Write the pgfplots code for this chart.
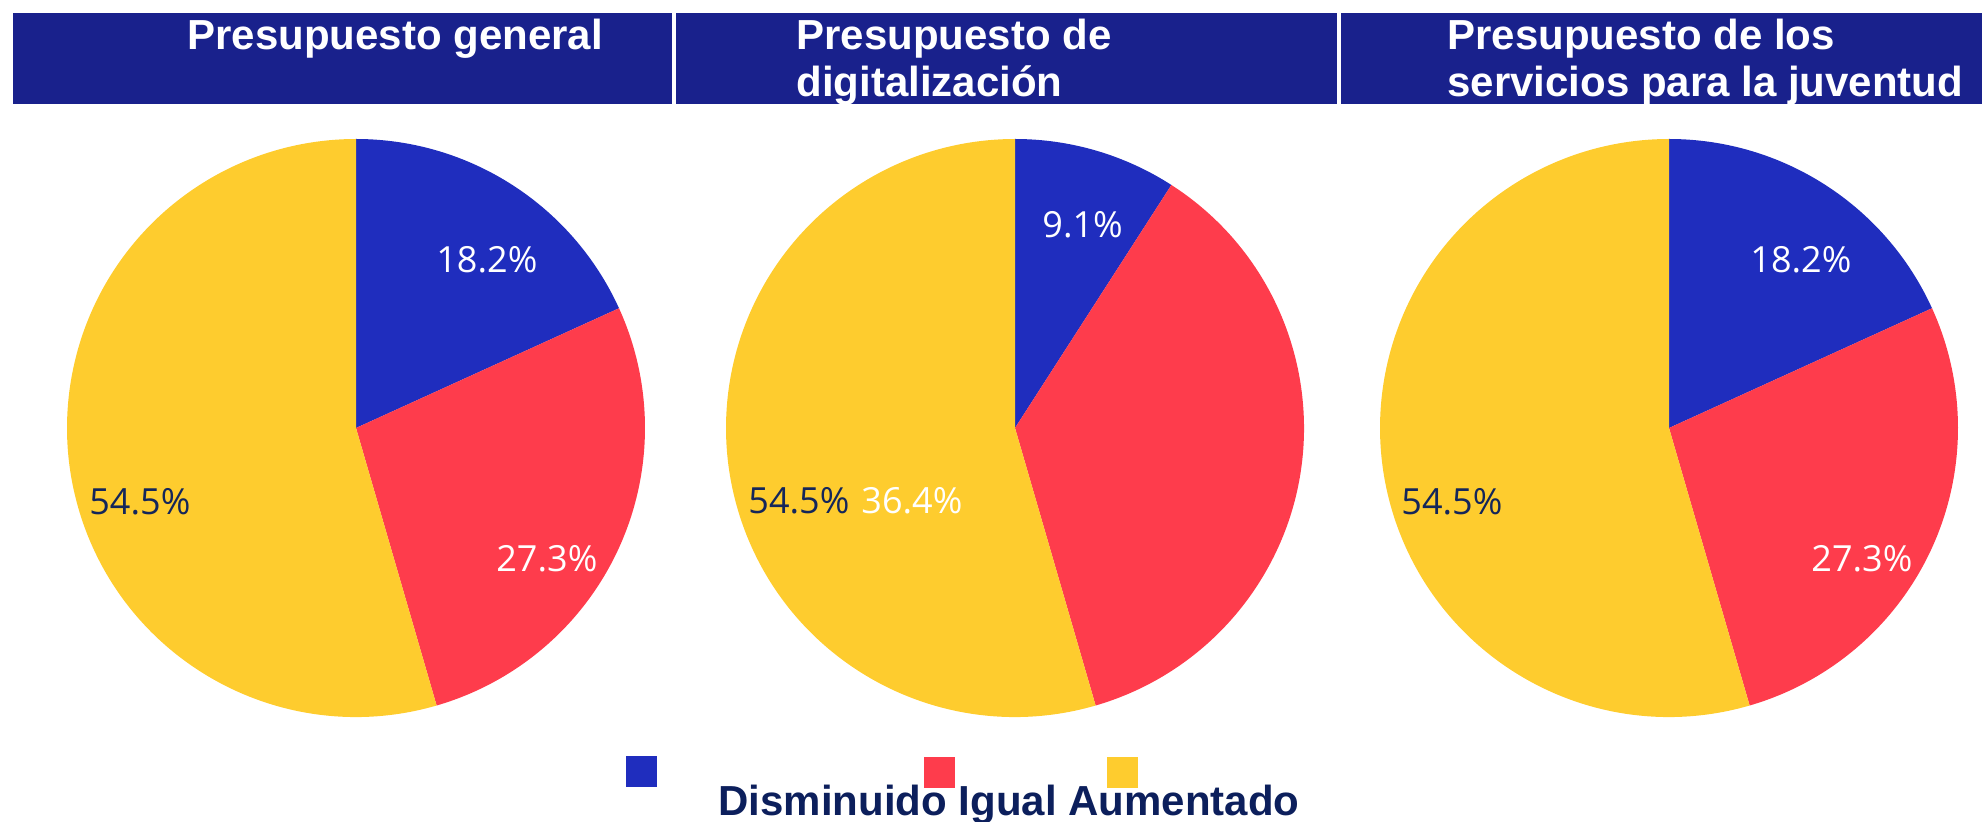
\documentclass[border=0pt]{standalone}
\usepackage{pgfplots}
\pgfplotsset{compat=1.18}
\usepackage{fontspec}
\setmainfont{Liberation Sans}
\newfontfamily\lab{Open Sans}
\definecolor{cblue}{RGB}{31,45,190}
\definecolor{cred}{RGB}{254,60,76}
\definecolor{cyel}{RGB}{254,204,46}
\definecolor{hdr}{RGB}{25,33,140}
\definecolor{navy}{RGB}{12,31,92}
\definecolor{labnavy}{RGB}{20,38,90}
% slice: cx, cy, start percent, percent, colour (radius 289 px = 144.5pt)
\newcommand\slice[5]{%
  \fill[#5] (axis cs:#1,#2) -- ++({90-3.6*#3}:144.5pt)
    arc[start angle={90-3.6*#3}, end angle={90-3.6*(#3+#4)}, radius=144.5pt] -- cycle;}
\newcommand\lbl[4]{\node[anchor=base west, inner sep=0pt, text=#3, font=\lab\fontsize{18}{20}\selectfont] at (axis cs:#1,#2) {#4};}
\newcommand\hd[3]{\node[anchor=base west, inner sep=0pt, text=white, font=\bfseries\fontsize{21}{24}\selectfont] at (axis cs:#1,#2) {#3};}
\begin{document}
\begin{tikzpicture}
\begin{axis}[
  scale only axis, width=991pt, height=411pt,
  xmin=0, xmax=1982, ymin=0, ymax=822, y dir=reverse,
  hide axis, clip=false]
% header bars
\fill[hdr] (axis cs:13,13) rectangle (axis cs:672,104);
\fill[hdr] (axis cs:676,13) rectangle (axis cs:1337,104);
\fill[hdr] (axis cs:1341,13) rectangle (axis cs:1982,104);
\hd{187}{50}{Presupuesto general}
\hd{796}{50}{Presupuesto de}
\hd{796}{97}{digitalización}
\hd{1447}{50}{Presupuesto de los}
\hd{1447}{97}{servicios para la juventud}
% pie 1: Presupuesto general
\slice{356}{428}{0}{18.2}{cblue}
\slice{356}{428}{18.2}{27.3}{cred}
\slice{356}{428}{45.5}{54.5}{cyel}
% pie 2: digitalizacion
\slice{1015}{428}{0}{9.1}{cblue}
\slice{1015}{428}{9.1}{36.4}{cred}
\slice{1015}{428}{45.5}{54.5}{cyel}
% pie 3: juventud
\slice{1669}{428}{0}{18.2}{cblue}
\slice{1669}{428}{18.2}{27.3}{cred}
\slice{1669}{428}{45.5}{54.5}{cyel}
% labels
\lbl{436}{273}{white}{18.2\%}
\lbl{496}{572}{white}{27.3\%}
\lbl{89}{515}{labnavy}{54.5\%}
\lbl{1042}{238}{white}{9.1\%}
\lbl{748}{514}{labnavy}{54.5\%}
\lbl{861}{514}{white}{36.4\%}
\lbl{1750}{273}{white}{18.2\%}
\lbl{1811}{572}{white}{27.3\%}
\lbl{1401}{515}{labnavy}{54.5\%}
% legend
\fill[cblue] (axis cs:626,756) rectangle (axis cs:657,787);
\fill[cred] (axis cs:924,757) rectangle (axis cs:955,788);
\fill[cyel] (axis cs:1107,757) rectangle (axis cs:1138,788);
\node[anchor=base west, inner sep=0pt, text=navy, font=\bfseries\fontsize{21}{24}\selectfont] at (axis cs:718,816) {Disminuido Igual Aumentado};
\end{axis}
\pgfresetboundingbox
\path (current axis.south west) rectangle (current axis.north east);
\end{tikzpicture}
\end{document}
